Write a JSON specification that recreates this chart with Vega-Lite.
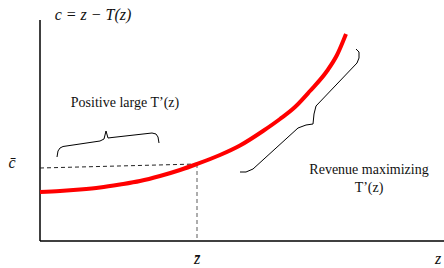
{
  "$schema": "https://vega.github.io/schema/vega-lite/v6.json",
  "width": 444,
  "height": 268,
  "padding": 0,
  "autosize": {"type": "none"},
  "background": "white",
  "config": {"view": {"stroke": null}},
  "encoding": {
    "x": {"type": "quantitative", "scale": {"domain": [-40, 404]}, "axis": null},
    "y": {"type": "quantitative", "scale": {"domain": [-27, 241]}, "axis": null}
  },
  "layer": [
    {
      "data": {"values": [
        {"x": 0, "y": 0, "x2": 404, "y2": 0},
        {"x": 0, "y": 0, "x2": 0, "y2": 221}
      ]},
      "mark": {"type": "rule", "color": "black", "strokeWidth": 1.5},
      "encoding": {"x": {"field": "x"}, "y": {"field": "y"}, "x2": {"field": "x2"}, "y2": {"field": "y2"}}
    },
    {
      "data": {"values": [{"x": 0, "y": 73, "x2": 157, "y2": 77}]},
      "mark": {"type": "rule", "color": "#222", "strokeWidth": 1, "strokeDash": [4, 3]},
      "encoding": {"x": {"field": "x"}, "y": {"field": "y"}, "x2": {"field": "x2"}, "y2": {"field": "y2"}}
    },
    {
      "data": {"values": [{"x": 157, "y": 77, "x2": 157, "y2": 0}]},
      "mark": {"type": "rule", "color": "#777", "strokeWidth": 1.2, "strokeDash": [4, 3]},
      "encoding": {"x": {"field": "x"}, "y": {"field": "y"}, "x2": {"field": "x2"}, "y2": {"field": "y2"}}
    },
    {
      "data": {"values": [
        {"x": 0, "y": 49}, {"x": 20, "y": 50}, {"x": 40, "y": 51.5}, {"x": 60, "y": 53.5},
        {"x": 80, "y": 56.5}, {"x": 100, "y": 60}, {"x": 120, "y": 65}, {"x": 140, "y": 71},
        {"x": 157, "y": 77}, {"x": 180, "y": 86}, {"x": 200, "y": 95.5}, {"x": 223, "y": 110},
        {"x": 240, "y": 122}, {"x": 255, "y": 134}, {"x": 270, "y": 150}, {"x": 287, "y": 170},
        {"x": 297, "y": 186}, {"x": 306, "y": 207}
      ]},
      "mark": {"type": "line", "color": "#ff0000", "strokeWidth": 4, "interpolate": "monotone"},
      "encoding": {"x": {"field": "x"}, "y": {"field": "y"}}
    },
    {
      "data": {"values": [
        {"b": "a", "o": 1, "x": 17, "y": 84}, {"b": "a", "o": 2, "x": 18, "y": 90}, {"b": "a", "o": 3, "x": 20, "y": 93},
        {"b": "a", "o": 4, "x": 23, "y": 94.5}, {"b": "a", "o": 5, "x": 60, "y": 100}, {"b": "a", "o": 6, "x": 64, "y": 102},
        {"b": "a", "o": 7, "x": 66, "y": 110}, {"b": "a", "o": 8, "x": 68, "y": 103}, {"b": "a", "o": 9, "x": 72, "y": 103.5},
        {"b": "a", "o": 10, "x": 112, "y": 108}, {"b": "a", "o": 11, "x": 116, "y": 107}, {"b": "a", "o": 12, "x": 118, "y": 104},
        {"b": "a", "o": 13, "x": 119, "y": 98},
        {"b": "b", "o": 1, "x": 316, "y": 192}, {"b": "b", "o": 2, "x": 319, "y": 189}, {"b": "b", "o": 3, "x": 319, "y": 183},
        {"b": "b", "o": 4, "x": 317, "y": 178}, {"b": "b", "o": 5, "x": 276, "y": 135}, {"b": "b", "o": 6, "x": 274, "y": 127},
        {"b": "b", "o": 7, "x": 273, "y": 117}, {"b": "b", "o": 8, "x": 266, "y": 116}, {"b": "b", "o": 9, "x": 258, "y": 113},
        {"b": "b", "o": 10, "x": 213, "y": 72}, {"b": "b", "o": 11, "x": 206, "y": 69}, {"b": "b", "o": 12, "x": 200, "y": 69}
      ]},
      "mark": {"type": "line", "color": "black", "strokeWidth": 1},
      "encoding": {"x": {"field": "x"}, "y": {"field": "y"}, "detail": {"field": "b"}, "order": {"field": "o"}}
    },
    {
      "data": {"values": [
        {"x": 85, "y": 138, "t": "Positive large T’(z)"},
        {"x": 329, "y": 71, "t": "Revenue maximizing"},
        {"x": 329, "y": 53, "t": "T’(z)"}
      ]},
      "mark": {"type": "text", "font": "Times New Roman, Liberation Serif, serif", "fontSize": 14, "baseline": "middle", "color": "#111"},
      "encoding": {"x": {"field": "x"}, "y": {"field": "y"}, "text": {"field": "t"}}
    },
    {
      "data": {"values": [
        {"x": 53, "y": 226, "t": "c = z − T(z)"},
        {"x": -28, "y": 78, "t": "c̄"},
        {"x": 157, "y": -18, "t": "z̄"},
        {"x": 398, "y": -18, "t": "z"}
      ]},
      "mark": {"type": "text", "font": "Liberation Serif, serif", "fontStyle": "italic", "fontSize": 16, "baseline": "middle", "color": "#111"},
      "encoding": {"x": {"field": "x"}, "y": {"field": "y"}, "text": {"field": "t"}}
    }
  ]
}
